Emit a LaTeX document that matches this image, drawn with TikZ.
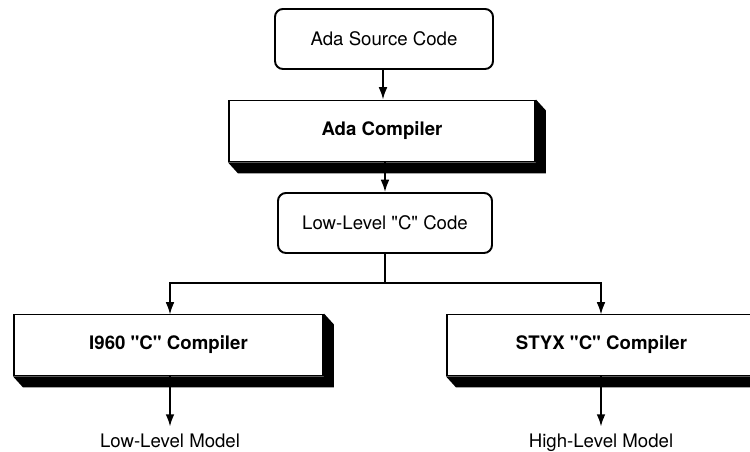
\documentclass[tikz,border=0pt]{standalone}
\usepackage{fontspec}
\setmainfont{TeX Gyre Heros}
\usetikzlibrary{arrows.meta, positioning, calc}

% black slab under and right of a compiler box
\newcommand{\slabshadow}[1]{%
  \fill (#1.south west) -- ++(0.2,-0.22) -- ($(#1.south east)+(0.2,-0.22)$)
    -- ($(#1.north east)+(0.2,-0.22)$) -- (#1.north east) -- (#1.south east) -- cycle;}
\newcommand{\qq}[1]{\textquotedbl#1\textquotedbl}

\begin{document}
\begin{tikzpicture}[
    file/.style={draw, rounded corners=4.5pt, line width=1.1pt, fill=white,
      minimum height=1.2cm, font=\fontsize{10.6}{12}\selectfont},
    tool/.style={draw, line width=1.1pt, fill=white, minimum height=1.22cm,
      font=\fontsize{10.6}{12}\selectfont\bfseries},
    result/.style={font=\fontsize{10.6}{12}\selectfont, text height=1.6ex, text depth=.4ex},
    flow/.style={-{Latex[length=7pt,width=5pt]}, line width=1pt}
  ]
				
				\useasboundingbox (0,0) rectangle (15,9.04);
				\clip (0,0) rectangle (15,9.04);
				
				\node[file, minimum width=4.36cm] (src) at (7.68,8.26) {Ada Source Code};
				\node[tool, minimum width=6.12cm] (ada) at (7.64,6.42) {Ada Compiler};
				\node[file, minimum width=4.28cm] (low) at (7.70,4.58) {Low-Level \qq{C} Code};
				\node[tool, minimum width=6.18cm] (i960) at (3.37,2.14) {I960 \qq{C} Compiler};
				\node[tool, minimum width=6.18cm] (styx) at (12.03,2.14) {STYX \qq{C} Compiler};
				
				\node[result] (lowmodel) at (3.40,0.20) {Low-Level Model};
				\node[result] (highmodel) at (12.02,0.20) {High-Level Model};
				
				\draw[flow] (src.south -| 7.66,0) -- (ada.north -| 7.66,0);
				\draw[flow] (ada.south -| 7.70,0) -- (low.north);
				
				% split towards both compilers
				\draw[line width=1pt] (low.south) -- (7.70,3.38) coordinate (split);
				\draw[flow] (split) -| (3.40,2.75) coordinate (i960in);
				\draw[flow] (split) -| (12.02,2.75) coordinate (styxin);
				
				\draw[flow] (i960.south -| lowmodel) -- (lowmodel.north);
				\draw[flow] (styx.south -| highmodel) -- (highmodel.north);
				
				\slabshadow{ada}
				\slabshadow{i960}
				\slabshadow{styx}
			\end{tikzpicture}
\end{document}
